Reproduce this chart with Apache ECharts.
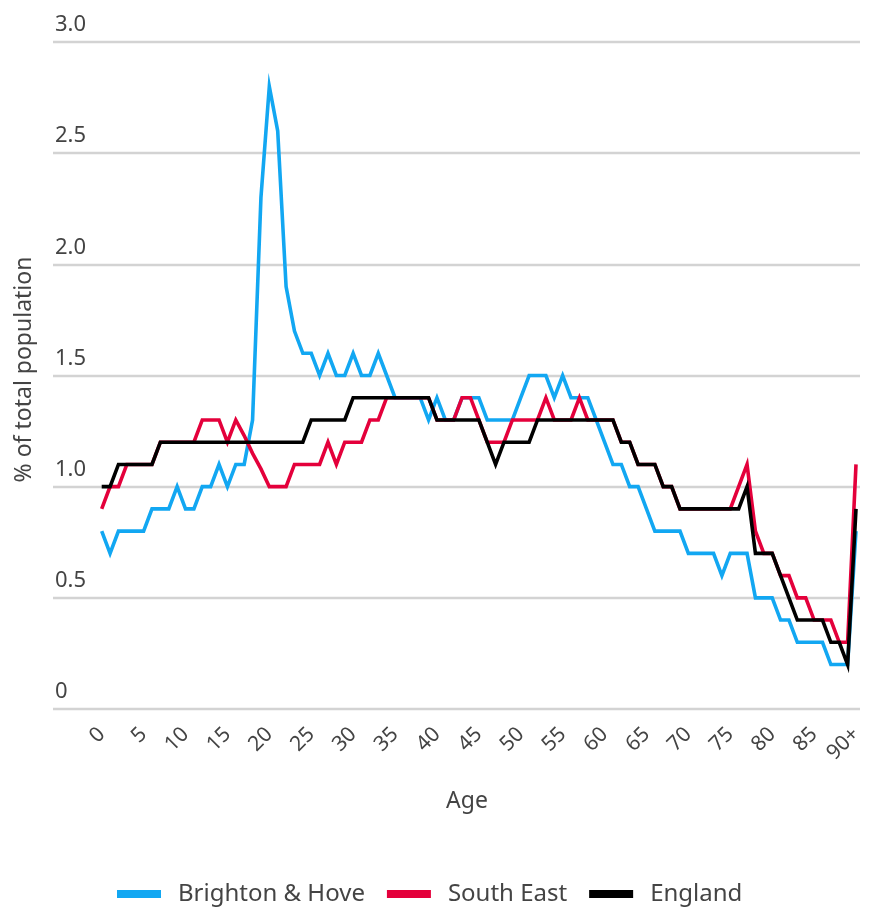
<!DOCTYPE html>
<html>
<head>
<meta charset="utf-8">
<script src="https://cdn.jsdelivr.net/npm/echarts@6/dist/echarts.min.js"></script>
<style>
  html, body { margin: 0; padding: 0; background: #ffffff; }
  #chart { width: 870px; height: 912px; }
</style>
</head>
<body>
<div id="chart"></div>
<script>
// ---- data ----
const ages = ['0','1','2','3','4','5','6','7','8','9','10','11','12','13','14','15','16','17','18','19',
  '20','21','22','23','24','25','26','27','28','29','30','31','32','33','34','35','36','37','38','39',
  '40','41','42','43','44','45','46','47','48','49','50','51','52','53','54','55','56','57','58','59',
  '60','61','62','63','64','65','66','67','68','69','70','71','72','73','74','75','76','77','78','79',
  '80','81','82','83','84','85','86','87','88','89','90+'];

const brightonHove = [0.8,0.7,0.8,0.8,0.8,0.8,0.9,0.9,0.9,1.0,
  0.9,0.9,1.0,1.0,1.1,1.0,1.1,1.1,1.3,2.3,
  2.8,2.6,1.9,1.7,1.6,1.6,1.5,1.6,1.5,1.5,
  1.6,1.5,1.5,1.6,1.5,1.4,1.4,1.4,1.4,1.3,
  1.4,1.3,1.3,1.4,1.4,1.4,1.3,1.3,1.3,1.3,
  1.4,1.5,1.5,1.5,1.4,1.5,1.4,1.4,1.4,1.3,
  1.2,1.1,1.1,1.0,1.0,0.9,0.8,0.8,0.8,0.8,
  0.7,0.7,0.7,0.7,0.6,0.7,0.7,0.7,0.5,0.5,
  0.5,0.4,0.4,0.3,0.3,0.3,0.3,0.2,0.2,0.2,0.8];

const southEast = [0.9,1.0,1.0,1.1,1.1,1.1,1.1,1.2,1.2,1.2,
  1.2,1.2,1.3,1.3,1.3,1.2,1.3,1.23,1.15,1.08,
  1.0,1.0,1.0,1.1,1.1,1.1,1.1,1.2,1.1,1.2,
  1.2,1.2,1.3,1.3,1.4,1.4,1.4,1.4,1.4,1.4,
  1.3,1.3,1.3,1.4,1.4,1.3,1.2,1.2,1.2,1.3,
  1.3,1.3,1.3,1.4,1.3,1.3,1.3,1.4,1.3,1.3,
  1.3,1.3,1.2,1.2,1.1,1.1,1.1,1.0,1.0,0.9,
  0.9,0.9,0.9,0.9,0.9,0.9,1.0,1.1,0.8,0.7,
  0.7,0.6,0.6,0.5,0.5,0.4,0.4,0.4,0.3,0.3,1.1];

const england = [1.0,1.0,1.1,1.1,1.1,1.1,1.1,1.2,1.2,1.2,
  1.2,1.2,1.2,1.2,1.2,1.2,1.2,1.2,1.2,1.2,
  1.2,1.2,1.2,1.2,1.2,1.3,1.3,1.3,1.3,1.3,
  1.4,1.4,1.4,1.4,1.4,1.4,1.4,1.4,1.4,1.4,
  1.3,1.3,1.3,1.3,1.3,1.3,1.2,1.1,1.2,1.2,
  1.2,1.2,1.3,1.3,1.3,1.3,1.3,1.3,1.3,1.3,
  1.3,1.3,1.2,1.2,1.1,1.1,1.1,1.0,1.0,0.9,
  0.9,0.9,0.9,0.9,0.9,0.9,0.9,1.0,0.7,0.7,
  0.7,0.6,0.5,0.4,0.4,0.4,0.4,0.3,0.3,0.2,0.9];

const seriesNames = ['Brighton & Hove', 'South East', 'England'];
const seriesColors = ['#12A7F2', '#E4003B', '#000000'];
const yTicks = [0, 0.5, 1.0, 1.5, 2.0, 2.5, 3.0];

// ---- chart ----
const FONT = '"Noto Sans", "Open Sans", sans-serif';
const TXT = '#444444';
const chart = echarts.init(document.getElementById('chart'), null, { renderer: 'canvas' });

const lineSeries = [brightonHove, southEast, england].map((d, i) => ({
  name: seriesNames[i],
  type: 'line',
  xAxisIndex: 1,
  yAxisIndex: 1,
  data: d,
  symbol: 'none',
  smooth: false,
  lineStyle: { color: seriesColors[i], width: 3.6, join: 'miter' },
  itemStyle: { color: seriesColors[i] },
  emphasis: { disabled: true },
  animation: false,
  z: 3 + i
}));

chart.setOption({
  backgroundColor: '#ffffff',
  animation: false,
  grid: [
    { left: 53, right: 10, top: 42, bottom: 203, containLabel: false },
    { left: 101.7, right: 14, top: 42, bottom: 203, containLabel: false }
  ],
  xAxis: [
    { gridIndex: 0, type: 'value', min: 0, max: 1, show: false },
    {
      gridIndex: 1,
      type: 'category',
      data: ages,
      boundaryGap: false,
      axisLine: { show: false },
      axisTick: { show: false },
      splitLine: { show: false },
      axisLabel: {
        interval: 4,
        rotate: 45,
        margin: 22,
        color: TXT,
        fontFamily: FONT,
        fontSize: 21
      }
    }
  ],
  yAxis: [
    {
      gridIndex: 0,
      type: 'value',
      min: yTicks[0],
      max: yTicks[yTicks.length - 1],
      interval: 0.5,
      axisLine: { show: false },
      axisTick: { show: false },
      splitLine: { show: true, lineStyle: { color: '#D3D3D3', width: 2.4 } },
      axisLabel: {
        inside: true,
        margin: 2,
        align: 'left',
        verticalAlign: 'bottom',
        padding: [0, 0, 6, 0],
        color: TXT,
        fontFamily: FONT,
        fontSize: 22,
        formatter: v => (v === 0 ? '0' : v.toFixed(1))
      },
      name: '% of total population',
      nameLocation: 'middle',
      nameGap: 17,
      nameTextStyle: { color: TXT, fontFamily: FONT, fontSize: 23, padding: [0, 0, 0, 12] }
    },
    { gridIndex: 1, type: 'value', min: 0, max: 3, interval: 0.5, show: false }
  ],
  legend: {
    data: seriesNames,
    left: 117,
    top: 882,
    padding: 0,
    icon: 'rect',
    itemWidth: 44,
    itemHeight: 8,
    itemGap: 22,
    selectedMode: false,
    textStyle: { color: TXT, fontFamily: FONT, fontSize: 24, padding: [0, 0, 0, 12] }
  },
  graphic: [
    {
      type: 'text',
      x: 467,
      y: 801,
      style: { text: 'Age', align: 'center', verticalAlign: 'middle', fill: TXT, font: '23px ' + FONT }
    }
  ],
  series: lineSeries
});
</script>
</body>
</html>
